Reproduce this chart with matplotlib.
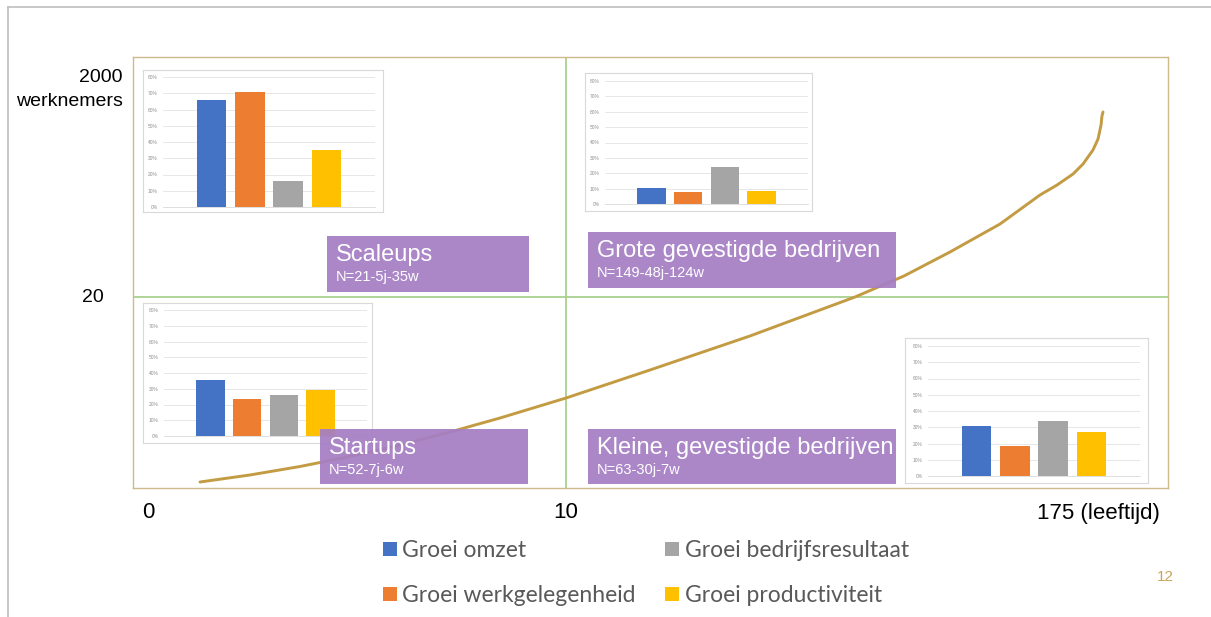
import matplotlib
matplotlib.use('Agg')
import matplotlib.pyplot as plt
from matplotlib.patches import Rectangle, Patch

W, H = 1211, 617

# groei-indicatoren per kwadrant (aandeel bedrijven, %)
series = ['Groei omzet', 'Groei werkgelegenheid',
          'Groei bedrijfsresultaat', 'Groei productiviteit']
bar_colors = ['#4472C4', '#ED7D31', '#A5A5A5', '#FFC000']

scaleups = [66, 71, 16, 35]
grote = [10.6, 8, 24, 8.4]
startups = [35.7, 23.4, 25.9, 29.3]
kleine = [31, 18.7, 34, 26.9]
pct_ticks = [0, 10, 20, 30, 40, 50, 60, 70, 80]

# levensloop-curve in het kwadrant (0..1 op leeftijd- en grootte-as)
curve_x = [0.0647, 0.1130, 0.1614, 0.2097, 0.2580, 0.3063, 0.3546,
           0.4184, 0.4995, 0.5961, 0.6976, 0.7449, 0.7894, 0.8377,
           0.8763, 0.8928, 0.9082, 0.9179, 0.9275, 0.9324, 0.9353,
           0.9362, 0.9372]
curve_y = [0.0139, 0.0302, 0.0499, 0.0731, 0.0998, 0.1299, 0.1624,
           0.2088, 0.2738, 0.3527, 0.4432, 0.4919, 0.5476, 0.6125,
           0.6798, 0.7030, 0.7285, 0.7517, 0.7842, 0.8097, 0.8422,
           0.8631, 0.8724]
split_x = 0.418
split_y = 0.443

x_labels = ['0', '10', '175 (leeftijd)']
y_labels = ['2000', 'werknemers', '20']

quadrants = [
    ('Scaleups', 'N=21-5j-35w'),
    ('Grote gevestigde bedrijven', 'N=149-48j-124w'),
    ('Startups', 'N=52-7j-6w'),
    ('Kleine, gevestigde bedrijven', 'N=63-30j-7w'),
]

plt.rcParams['font.family'] = ['Liberation Sans', 'DejaVu Sans']


def frac(x0, y0, x1, y1):
    # pixel box (origin top-left) -> figure fraction rect
    return [x0 / W, 1 - y1 / H, (x1 - x0) / W, (y1 - y0) / H]


fig = plt.figure(figsize=(W / 100, H / 100), dpi=100)
fig.patch.set_facecolor('white')

# main quadrant box
ax = fig.add_axes(frac(133, 57, 1168, 488), zorder=1)
ax.set_xlim(0, 1)
ax.set_ylim(0, 1)
ax.set_xticks([])
ax.set_yticks([])
for s in ax.spines.values():
    s.set_color('#CDB98A')
    s.set_linewidth(1.0)
ax.axvline(split_x, color='#A9D18E', lw=1.3)
ax.axhline(split_y, color='#A9D18E', lw=1.3)
ax.plot(curve_x, curve_y, color='#C39B42', lw=2.1,
        solid_capstyle='round', solid_joinstyle='round')


def inset(frame, plot, vals):
    fa = fig.add_axes(frac(*frame), zorder=2)
    fa.set_xticks([])
    fa.set_yticks([])
    for s in fa.spines.values():
        s.set_color('#D9D9D9')
        s.set_linewidth(0.8)
    ia = fig.add_axes(frac(*plot), zorder=3)
    ia.patch.set_alpha(0)
    ia.bar(range(len(vals)), vals, width=0.77, color=bar_colors, zorder=3)
    ia.set_xlim(-1.27, 4.27)
    ia.set_ylim(0, 80)
    ia.set_xticks([])
    ia.set_yticks(pct_ticks)
    ia.set_yticklabels([f'{t}%' for t in pct_ticks], fontsize=3.5,
                       color='#8C8C8C')
    ia.tick_params(axis='y', length=0, pad=4)
    ia.grid(axis='y', color='#E3E3E3', lw=0.6, zorder=0)
    for k in ['top', 'right', 'left']:
        ia.spines[k].set_visible(False)
    ia.spines['bottom'].set_color('#D9D9D9')
    ia.spines['bottom'].set_linewidth(0.6)
    return ia


inset((143, 70, 383, 212), (163, 77, 375, 207), scaleups)
inset((585, 73, 812, 211), (605, 81, 808, 204), grote)
inset((143, 303, 372, 443), (164, 310, 367, 436), startups)
inset((905, 338, 1148, 483), (928, 346, 1140, 476), kleine)

# overlay in pixel units for labels and boxes
lay = fig.add_axes([0, 0, 1, 1], zorder=4)
lay.set_xlim(0, W)
lay.set_ylim(H, 0)
lay.axis('off')

# slide edge
lay.plot([8, W], [7, 7], color='#BFBFBF', lw=1.2)
lay.plot([8, 8], [7, H], color='#BFBFBF', lw=1.2)

boxes = [(327, 236, 529, 292), (588, 232, 896, 288),
         (320, 429, 528, 484), (588, 429, 896, 484)]
for (title, sub), (x0, y0, x1, y1) in zip(quadrants, boxes):
    lay.add_patch(Rectangle((x0, y0), x1 - x0, y1 - y0,
                            facecolor='#A57EC4', edgecolor='none', alpha=0.93))
    lay.text(x0 + 9, y0 + 19, title, fontsize=17, color='white',
             ha='left', va='center')
    lay.text(x0 + 9, y0 + 41, sub, fontsize=10.5, color='white',
             ha='left', va='center')

# axis labels
lay.text(122, 78, y_labels[0], fontsize=14, ha='right', va='center')
lay.text(123, 101, y_labels[1], fontsize=14, ha='right', va='center')
lay.text(93, 297, y_labels[2], fontsize=14, ha='center', va='center')
lay.text(148, 513, x_labels[0], fontsize=16, ha='center', va='center')
lay.text(566, 513, x_labels[1], fontsize=16, ha='center', va='center')
lay.text(1037, 513, x_labels[2], fontsize=16, ha='left', va='center')

lay.text(1165, 577, '12', fontsize=11, color='#C9A55A', ha='center',
         va='center')

# legend (column-wise order)
handles = [Patch(facecolor=c, edgecolor='none') for c in bar_colors]
fig.legend(handles, series, ncol=2, loc='upper left',
           bbox_to_anchor=(383 / W, 1 - 540 / H), frameon=False,
           prop={'family': 'Lato', 'size': 16.5}, labelcolor='#595959',
           handlelength=0.6, handleheight=0.6, handletextpad=0.25,
           columnspacing=1.28, labelspacing=1.05, borderpad=0,
           borderaxespad=0)

fig.savefig('out.png', dpi=100)
